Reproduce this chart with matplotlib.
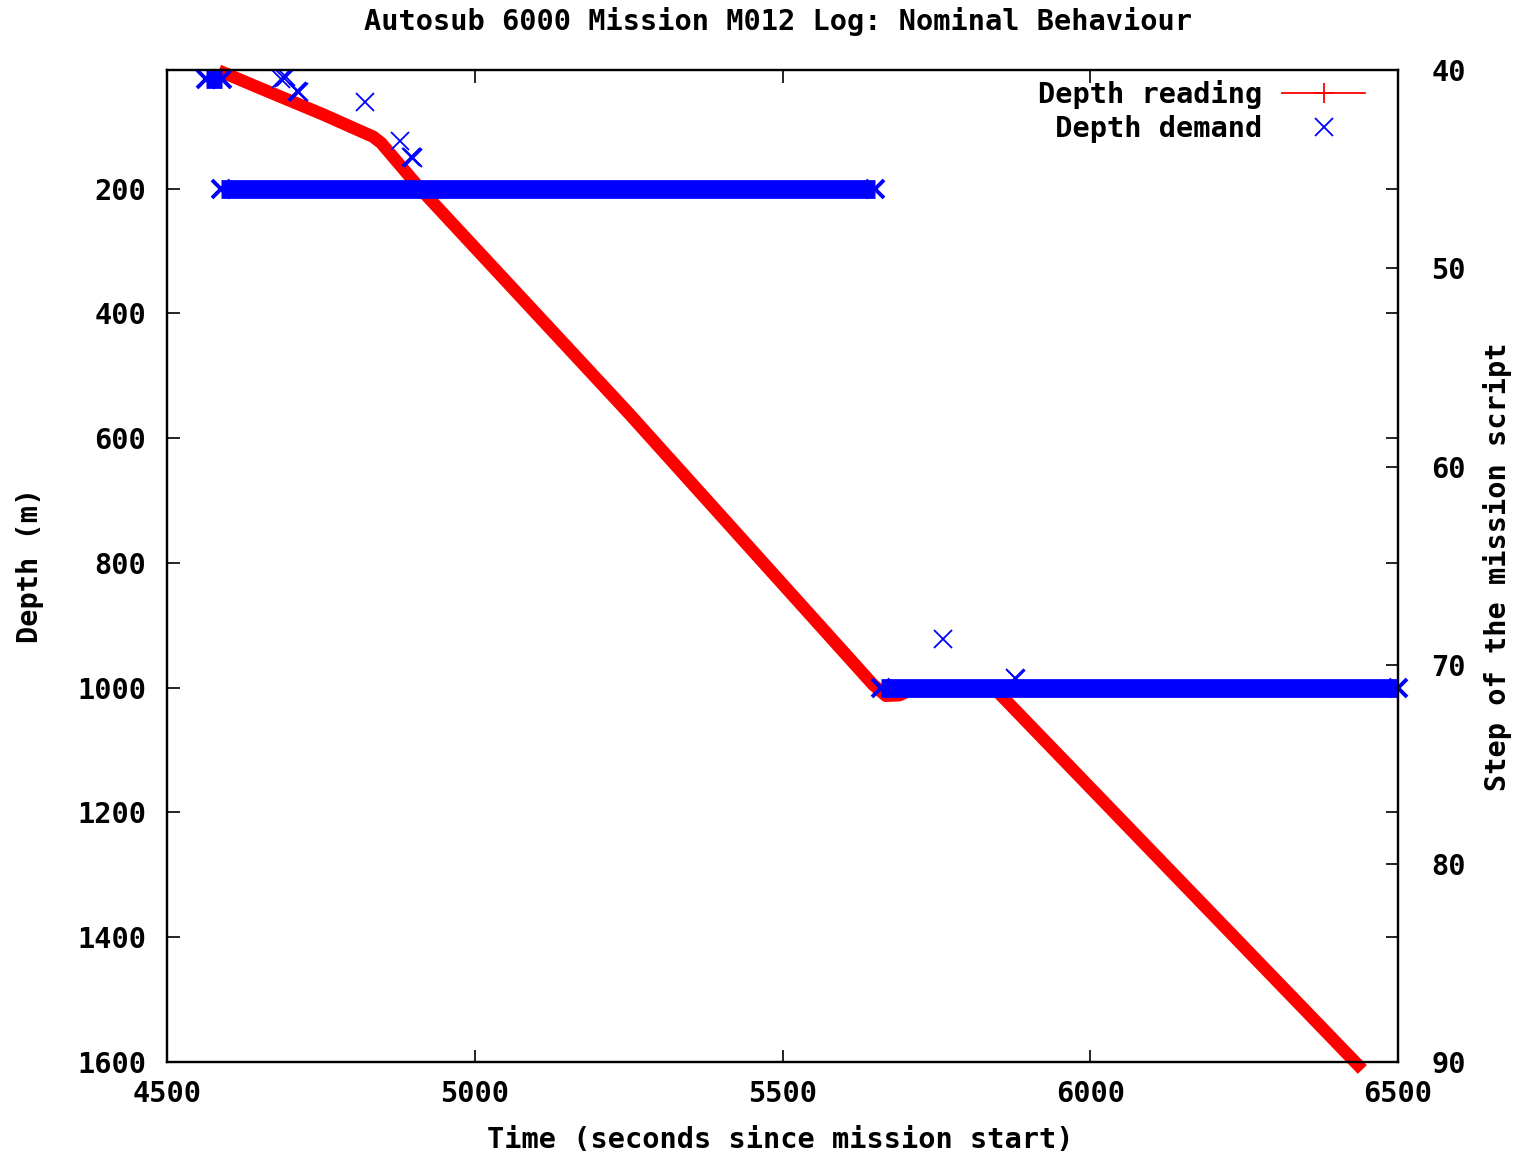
import matplotlib
matplotlib.use('Agg')
import matplotlib.pyplot as plt
from matplotlib.lines import Line2D

# ---------------- data ----------------
title = "Autosub 6000 Mission M012 Log: Nominal Behaviour"
xlabel = "Time (seconds since mission start)"
ylabel = "Depth (m)"
y2label = "Step of the mission script"

x_ticks = [4500, 5000, 5500, 6000, 6500]
y_ticks = [200, 400, 600, 800, 1000, 1200, 1400, 1600]
y2_ticks = [40, 50, 60, 70, 80, 90]

# Depth reading (red)
reading_time = [4584, 4646, 4753, 4835, 4848, 4911, 5250, 5647, 5668, 5690, 5710, 5750, 5845, 6442]
reading_depth = [11, 37, 81, 117, 127, 200, 560, 995, 1013, 1012, 1003, 1000, 1002, 1612]

# Depth demand: long constant stretches (first and last sample of each)
demand_seg_start = [4563, 4588, 5660]
demand_seg_end = [4590, 5650, 6500]
demand_seg_depth = [24, 200, 1000]

# Depth demand: isolated samples
demand_time = [4686, 4690, 4694, 4712, 4713, 4714, 4822, 4879, 4897, 4898, 4899, 5761, 5878, 5879]
demand_depth = [25, 23, 21, 44, 45, 46, 62, 123, 149, 150, 151, 922, 985, 986]

# ---------------- style ----------------
RED = '#ff0000'
BLUE = '#0000ff'
FONT = 'DejaVu Sans Mono'
FS = 20.6
plt.rcParams['font.family'] = [FONT]
plt.rcParams['font.weight'] = 'bold'

W, H = 1523, 1156
fig = plt.figure(figsize=(W / 100, H / 100), dpi=100)
L, R, T, B = 167, 1398, 70, 1062
ax = fig.add_axes([L / W, 1 - B / H, (R - L) / W, (B - T) / H])

# demand bands
for s, e, d in zip(demand_seg_start, demand_seg_end, demand_seg_depth):
    ax.plot([s, e], [d, d], color=BLUE, lw=13.5, solid_capstyle='butt',
            marker='x', ms=13.5, mew=2.8, zorder=3, clip_on=False)
# isolated demand samples
ax.plot(demand_time, demand_depth, ls='none', marker='x', color=BLUE,
        ms=12.5, mew=1.3, zorder=3)

# depth reading
ax.plot(reading_time, reading_depth, color=RED, lw=9, zorder=2,
        solid_capstyle='butt', solid_joinstyle='round', clip_on=False)

ax.set_xlim(4500, 6500)
ax.set_ylim(1600, 10)
ax.set_xticks(x_ticks)
ax.set_xticklabels([str(v) for v in x_ticks])
ax.set_yticks(y_ticks)
ax.set_yticklabels([str(v) for v in y_ticks])

ax2 = ax.twinx()
ax2.set_ylim(90, 40)
ax2.set_yticks(y2_ticks)
ax2.set_yticklabels([str(v) for v in y2_ticks])

for a in (ax, ax2):
    for sp in a.spines.values():
        sp.set_linewidth(1.6)
        sp.set_color('black')

ax.tick_params(axis='x', direction='in', length=9, width=1.2, top=True,
               labelsize=FS, pad=13)
ax.tick_params(axis='y', direction='in', length=9, width=1.2, right=True,
               labelsize=FS, pad=15)
ax2.tick_params(axis='y', direction='in', length=9, width=1.2,
                labelsize=FS, pad=24)
for lab in ax.get_xticklabels() + ax.get_yticklabels() + ax2.get_yticklabels():
    lab.set_fontweight('bold')
for lab in ax2.get_yticklabels():
    lab.set_horizontalalignment('left')

fig.text(778 / W, 1 - 21 / H, title, ha='center', va='center', fontsize=FS, fontweight='bold')
fig.text(780 / W, 1 - 1140 / H, xlabel, ha='center', va='center', fontsize=FS, fontweight='bold')
fig.text(30 / W, 1 - 565 / H, ylabel, ha='center', va='center', rotation=90, fontsize=FS, fontweight='bold')
fig.text(1498 / W, 1 - 567 / H, y2label, ha='center', va='center', rotation=90, fontsize=FS, fontweight='bold')

handles = [Line2D([], [], color=RED, lw=1.3, marker='+', ms=14, mew=1.3),
           Line2D([], [], color=BLUE, ls='none', marker='x', ms=12.5, mew=1.3)]
leg = ax2.legend(handles, ["Depth reading", " Depth demand"], loc='upper right',
                 bbox_to_anchor=((1365 - L) / (R - L), (B - 80) / (B - T)),
                 frameon=False, markerfirst=False, borderaxespad=0, borderpad=0,
                 handlelength=2.9, handletextpad=0.7, labelspacing=0.2,
                 prop={'family': FONT, 'weight': 'bold', 'size': FS})

fig.savefig('out.png', dpi=100, facecolor='white')
